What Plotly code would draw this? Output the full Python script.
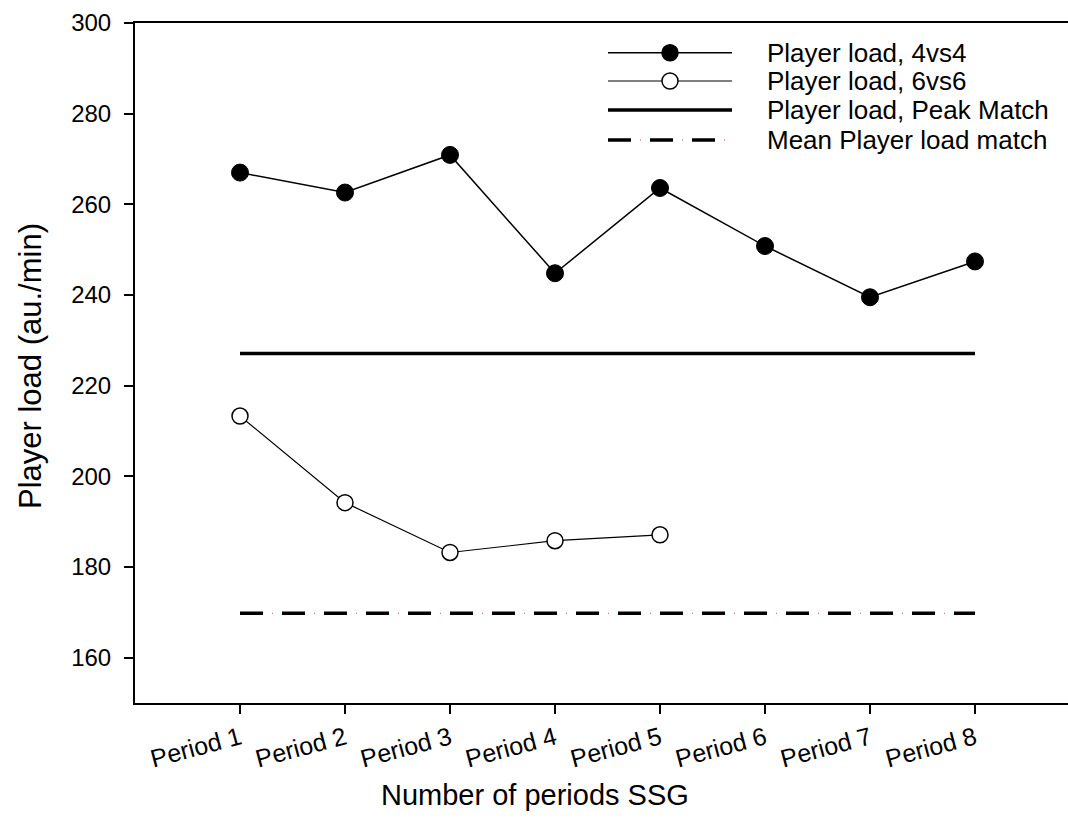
import plotly.graph_objects as go

categories = ["Period 1", "Period 2", "Period 3", "Period 4", "Period 5", "Period 6", "Period 7", "Period 8"]
x_pos = [1, 2, 3, 4, 5, 6, 7, 8]
load_4vs4 = [267.0, 262.6, 270.9, 244.8, 263.6, 250.8, 239.5, 247.4]
load_6vs6 = [213.3, 194.2, 183.2, 185.8, 187.1]
peak_match = 227.1
mean_match = 169.8
y_ticks = [160, 180, 200, 220, 240, 260, 280, 300]

names = ["Player load, 4vs4", "Player load, 6vs6", "Player load, Peak Match", "Mean Player load match"]
x_title = "Number of periods SSG"
y_title = "Player load (au./min)"

FONT = "Arial, Liberation Sans, sans-serif"
DOT_COLOR = "#d04070"

fig = go.Figure()

fig.add_trace(go.Scatter(
    x=[x_pos[0], x_pos[-1]], y=[peak_match, peak_match], mode="lines",
    line=dict(color="black", width=3.5), name=names[2], showlegend=False))
fig.add_trace(go.Scatter(
    x=[x_pos[0], x_pos[-1]], y=[mean_match, mean_match], mode="lines",
    line=dict(color="black", width=3.5, dash="23px,19px"), name=names[3], showlegend=False))
fig.add_trace(go.Scatter(
    x=[x_pos[0], x_pos[-1]], y=[mean_match, mean_match], mode="lines",
    line=dict(color=DOT_COLOR, width=1, dash="0px,32px,1px,9px"), showlegend=False, hoverinfo="skip"))
fig.add_trace(go.Scatter(
    x=x_pos, y=load_4vs4, mode="lines+markers", name=names[0], showlegend=False,
    line=dict(color="black", width=1.5),
    marker=dict(size=17, color="black", line=dict(color="black", width=1))))
fig.add_trace(go.Scatter(
    x=x_pos[:len(load_6vs6)], y=load_6vs6, mode="lines+markers", name=names[1], showlegend=False,
    line=dict(color="black", width=1.2),
    marker=dict(size=16, color="white", line=dict(color="black", width=1.5))))

W, H = 1068, 838
L, T, B, R = 135, 23, 135, 0
pw, ph = W - L - R, H - T - B

def px(xp):
    return (xp - L) / pw

def py(yp):
    return 1 - (yp - T) / ph

shapes = []
annotations = []
leg_rows = [52.7, 81, 110, 140]
lx0, lx1, lmid, ltext = 608, 732, 670, 765
styles = [
    dict(width=1.5, dash="solid", marker="filled"),
    dict(width=1.2, dash="solid", marker="open"),
    dict(width=3.5, dash="solid", marker=None),
    dict(width=3.5, dash="23px,19px", marker=None),
]
for i, (name, yr, st) in enumerate(zip(names, leg_rows, styles)):
    shapes.append(dict(type="line", xref="paper", yref="paper",
                       x0=px(lx0), x1=px(lx1), y0=py(yr), y1=py(yr),
                       line=dict(color="black", width=st["width"], dash=st["dash"])))
    if i == 3:
        shapes.append(dict(type="line", xref="paper", yref="paper",
                           x0=px(lx0), x1=px(lx1), y0=py(yr), y1=py(yr),
                           line=dict(color=DOT_COLOR, width=1, dash="0px,32px,1px,9px")))
    if st["marker"]:
        shapes.append(dict(type="circle", xref="paper", yref="paper",
                           xsizemode="pixel", ysizemode="pixel",
                           xanchor=px(lmid), yanchor=py(yr),
                           x0=-8, x1=8, y0=-8, y1=8,
                           fillcolor="black" if st["marker"] == "filled" else "white",
                           line=dict(color="black", width=1.5)))
    annotations.append(dict(x=px(ltext), y=py(yr), xref="paper", yref="paper",
                            text=name, showarrow=False, xanchor="left", yanchor="middle",
                            font=dict(family=FONT, size=26, color="black")))

annotations.append(dict(x=px(535), y=py(795), xref="paper", yref="paper",
                        text=x_title, showarrow=False, xanchor="center", yanchor="middle",
                        font=dict(family=FONT, size=29, color="black")))
annotations.append(dict(x=px(30), y=py(366), xref="paper", yref="paper",
                        text=y_title, showarrow=False, xanchor="center", yanchor="middle",
                        textangle=-90,
                        font=dict(family=FONT, size=31, color="black")))

fig.update_layout(
    width=W, height=H,
    margin=dict(l=L, r=R, t=T, b=B),
    paper_bgcolor="white", plot_bgcolor="white",
    font=dict(family=FONT, size=24, color="black"),
    shapes=shapes, annotations=annotations,
    xaxis=dict(
        range=[0, (W - L) / 105.0],
        tickmode="array", tickvals=x_pos, ticktext=categories,
        tickangle=-15, ticks="outside", ticklen=9, tickwidth=1.5, tickcolor="black",
        showline=True, linecolor="black", linewidth=2, mirror=True,
        showgrid=False, zeroline=False,
        tickfont=dict(family=FONT, size=25, color="black"),
    ),
    yaxis=dict(
        range=[150, 300],
        tickmode="array", tickvals=y_ticks,
        ticks="outside", ticklen=9, tickwidth=1.5, tickcolor="black",
        ticklabelstandoff=8,
        showline=True, linecolor="black", linewidth=2,
        showgrid=False, zeroline=False,
        tickfont=dict(family=FONT, size=24, color="black"),
    ),
    showlegend=False,
)

fig.write_html("out.html")
